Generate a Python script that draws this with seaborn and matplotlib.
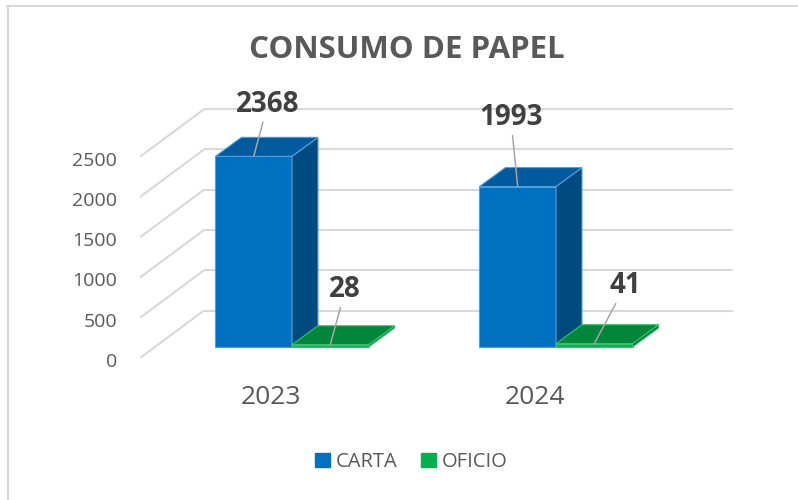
import matplotlib
matplotlib.use("Agg")
import matplotlib.pyplot as plt
import matplotlib.transforms as mtransforms
import pandas as pd
import seaborn as sns
from matplotlib.patches import Polygon, Patch
from matplotlib.lines import Line2D

# %% data
years = ["2023", "2024"]
tipos = ["CARTA", "OFICIO"]
carta = [2368, 1993]
oficio = [28, 41]
y_ticks = [0, 500, 1000, 1500, 2000, 2500]

df = pd.DataFrame({
    "Año": years * 2,
    "Tipo": ["CARTA"] * len(years) + ["OFICIO"] * len(years),
    "Hojas": carta + oficio,
})

# %% styles
front_col = {"CARTA": "#0070C0", "OFICIO": "#00B050"}
top_col = {"CARTA": "#005A9E", "OFICIO": "#00873C"}
side_col = {"CARTA": "#004A80", "OFICIO": "#006E32"}
edge_col = {"CARTA": "#4F9FE0", "OFICIO": "#35C46C"}
grid_col = "#D9D9D9"
text_col = "#595959"

sns.set_style("white")
plt.rcParams["font.family"] = ["Open Sans", "DejaVu Sans"]

W, H = 798, 500
fig = plt.figure(figsize=(W / 100, H / 100), dpi=100)
# axes box in pixels: x 140..740, y 100..365
ax = fig.add_axes([140 / W, 1 - 365 / H, 600 / W, 265 / H])
ax.patch.set_alpha(0)

sns.barplot(data=df, x="Año", y="Hojas", hue="Tipo", hue_order=tipos, order=years,
            palette=front_col, width=0.58, saturation=1, errorbar=None,
            legend=False, ax=ax)

# pixel -> data helpers (category 0 sits at px 292, category 1 at px 556, base at px 347)
UX = 1 / 264
UY = 12.42
ax.set_xlim(-(292 - 140) * UX, 1 + (740 - 556) * UX)
ax.set_ylim(-(365 - 347) * UY, (347 - 100) * UY)


def px_x(p):
    return (p - 292) * UX


# walls: left diagonals + back horizontal grid
front_dy, back_dy = -11 * UY, 36.5 * UY
for v in y_ticks:
    ax.plot([px_x(140), px_x(204)], [v + front_dy, v + back_dy],
            color=grid_col, lw=1.5, zorder=1, solid_capstyle="butt")
    ax.plot([px_x(204), px_x(733)], [v + back_dy, v + back_dy],
            color=grid_col, lw=1.5, zorder=1, solid_capstyle="butt")

# 3d faces for each bar
dx, dy = 26 * UX, 19 * UY
for z, (cont, tipo) in enumerate(zip(ax.containers, tipos)):
    for bar in cont:
        x0, w, h = bar.get_x(), bar.get_width(), bar.get_height()
        bar.set_zorder(3 + z)
        bar.set_edgecolor(edge_col[tipo])
        bar.set_linewidth(0.8)
        top = Polygon([(x0, h), (x0 + w, h), (x0 + w + dx, h + dy), (x0 + dx, h + dy)],
                      closed=True, facecolor=top_col[tipo], edgecolor=edge_col[tipo],
                      lw=0.8, zorder=3 + z)
        side = Polygon([(x0 + w, 0), (x0 + w, h), (x0 + w + dx, h + dy), (x0 + w + dx, dy)],
                       closed=True, facecolor=side_col[tipo], edgecolor=edge_col[tipo],
                       lw=0.8, zorder=3 + z)
        ax.add_patch(side)
        ax.add_patch(top)

# data labels with leader lines (offsets in pixels)
label_offsets = {("CARTA", 0): (14, 52), ("OFICIO", 0): (15, 55),
                 ("CARTA", 1): (-7, 69), ("OFICIO", 1): (31, 58)}
for cont, tipo in zip(ax.containers, tipos):
    for i, bar in enumerate(cont):
        xc = bar.get_x() + bar.get_width() / 2
        h = bar.get_height()
        ax.annotate(f"{h:.0f}", xy=(xc, h), xytext=label_offsets[(tipo, i)],
                    textcoords="offset pixels", ha="center", va="center",
                    fontsize=20, fontweight="bold", color="#404040", zorder=10,
                    arrowprops=dict(arrowstyle="-", color="#A6A6A6", lw=1.1,
                                    shrinkA=0, shrinkB=0))

# ticks
ax.set_yticks(y_ticks)
ax.tick_params(axis="y", length=0, pad=23 * 0.72, labelsize=14, labelcolor=text_col)
ax.tick_params(axis="x", length=0, pad=0, labelsize=19, labelcolor=text_col)
for lab in ax.get_yticklabels():
    lab.set_transform(lab.get_transform() +
                      mtransforms.ScaledTranslation(0, -13 / 100, fig.dpi_scale_trans))
for lab in ax.get_xticklabels():
    lab.set_transform(lab.get_transform() +
                      mtransforms.ScaledTranslation(-21 / 100, -20 / 100, fig.dpi_scale_trans))
ax.set_xlabel("")
ax.set_ylabel("")
sns.despine(ax=ax, left=True, bottom=True)

fig.text(407 / W, 1 - 50 / H, "CONSUMO DE PAPEL", ha="center", va="center",
         fontsize=22.5, fontweight="bold", color=text_col)

handles = [Patch(facecolor=front_col[t], edgecolor=front_col[t]) for t in tipos]
fig.legend(handles, tipos, loc="center", bbox_to_anchor=(411 / W, 1 - 462 / H),
           ncol=2, frameon=False, fontsize=14.5, labelcolor=text_col,
           handlelength=0.75, handleheight=0.75, handletextpad=0.3, columnspacing=1.15)

# chart border (top and left visible)
fig.add_artist(Line2D([7 / W, 1], [1 - 6 / H, 1 - 6 / H], transform=fig.transFigure,
                      color=grid_col, lw=1.5))
fig.add_artist(Line2D([8 / W, 8 / W], [0, 1 - 6 / H], transform=fig.transFigure,
                      color=grid_col, lw=1.5))

fig.savefig("out.png", dpi=100)
